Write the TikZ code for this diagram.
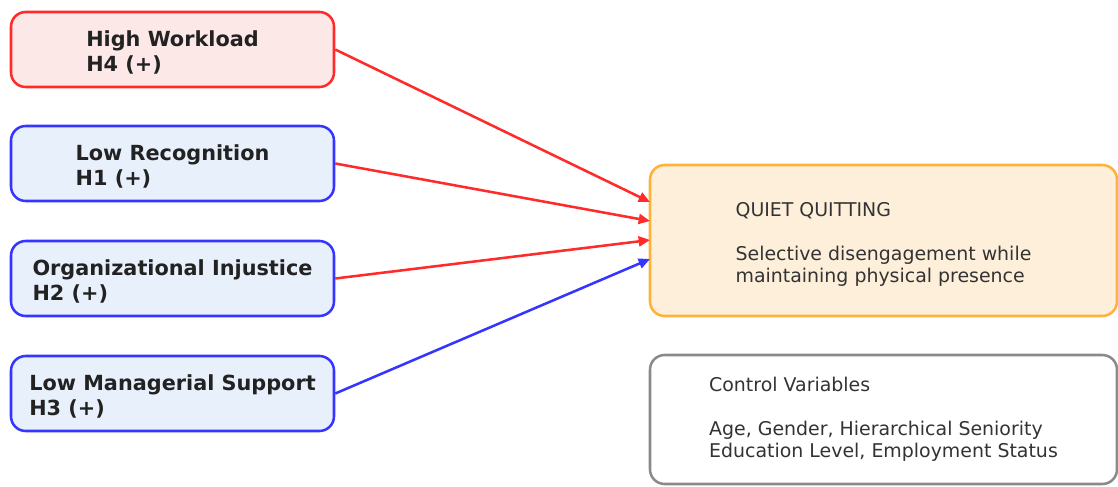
\documentclass[tikz,border=0pt]{standalone}
\usepackage{fontspec}
\setmainfont{DejaVu Sans}
\usetikzlibrary{arrows.meta}

\definecolor{hiRed}{HTML}{FF2A2A}
\definecolor{hiRedFill}{HTML}{FDE8E8}
\definecolor{loBlue}{HTML}{3535FF}
\definecolor{loBlueFill}{HTML}{E8F0FC}
\definecolor{qqOrange}{HTML}{FDB23C}
\definecolor{qqFill}{HTML}{FEEFDB}
\definecolor{cvGray}{HTML}{8A8A8A}
\definecolor{txtDark}{HTML}{222222}
\definecolor{txtMid}{HTML}{333333}

% strut that lowers a text block slightly inside its box
\newcommand{\lowerstrut}{\rule{0pt}{16.4pt}}

\tikzset{
  factor/.style={draw, line width=1.9pt, rounded corners=11pt,
    minimum width=242.25pt, minimum height=56.25pt, inner sep=0pt,
    align=left, text=txtDark,
    font=\bfseries\fontsize{15.6}{18.7}\selectfont},
  riskbox/.style={factor, draw=hiRed, fill=hiRedFill},
  lackbox/.style={factor, draw=loBlue, fill=loBlueFill},
  outcome/.style={draw, line width=1.9pt, rounded corners=11pt,
    minimum width=350.25pt, inner sep=0pt, align=left, text=txtMid,
    font=\fontsize{14.2}{16.5}\selectfont},
  link/.style={line width=1.9pt, -{Triangle[length=8.5pt,width=7.5pt]}},
}

\begin{document}
\begin{tikzpicture}[x=0.75pt, y=-0.75pt]
  \useasboundingbox (0,0) rectangle (1118,486);
  \begin{scope}
    \clip (0,0) rectangle (1118,486);

    % predictors
    \node[riskbox] (hw) at (172.5,49.5) {\lowerstrut High Workload\\H4 (+)};
    \node[lackbox] (lr) at (172.5,163.5) {\lowerstrut Low Recognition\\H1 (+)};
    \node[lackbox] (oi) at (172.5,278.5) {\lowerstrut Organizational Injustice\\H2 (+)};
    \node[lackbox] (lm) at (172.5,393.5) {\lowerstrut Low Managerial Support\\H3 (+)};

    % outcome and controls
    \node[outcome, draw=qqOrange, fill=qqFill, minimum height=113.25pt]
      (qq) at (883.5,240.5)
      {\lowerstrut QUIET QUITTING\\[16.5pt]Selective disengagement while\\maintaining physical presence};
    \node[outcome, draw=cvGray, fill=white, minimum height=96.75pt]
      (cv) at (883.5,419.5)
      {Control Variables\\[16.5pt]Age, Gender, Hierarchical Seniority\\Education Level, Employment Status};

    % arrow targets on the outcome box
    \coordinate (t1) at (650,202);
    \coordinate (t2) at (650,221);
    \coordinate (t3) at (650,240);
    \coordinate (t4) at (650,259);

    \draw[link, hiRed] (hw.east) -- (t1);
    \draw[link, hiRed] (lr.east) -- (t2);
    \draw[link, hiRed] (oi.east) -- (t3);
    \draw[link, loBlue] (lm.east) -- (t4);
  \end{scope}
\end{tikzpicture}
\end{document}
